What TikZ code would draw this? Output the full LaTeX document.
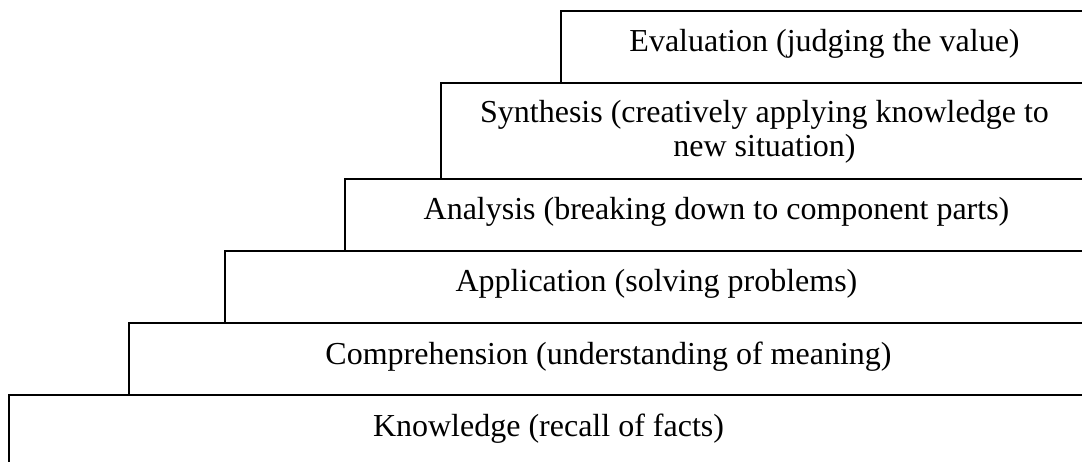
\documentclass[tikz,border=0pt]{standalone}
\usepackage{fontspec}
\setmainfont{Liberation Serif}
\usepackage{tikz}

\tikzset{
  tier/.style={draw=black, line width=2pt},
  tiertext/.style={anchor=base, inner sep=0pt, font=\fontsize{32}{34}\selectfont, align=center}
}

\begin{document}
\begin{tikzpicture}[x=1pt, y=-1pt]
\useasboundingbox (0,0) rectangle (1082,462);
\clip (0,0) rectangle (1082,462);

% Evaluation
\draw[tier] (561,11) rectangle (1088,83);
\node[tiertext] (evaluation) at (824.5,52) {Evaluation (judging the value)};

% Synthesis
\draw[tier] (441,83) rectangle (1088,179);
\node[tiertext] (synthesis) at (764.5,157) {Synthesis (creatively applying knowledge to\\new situation)};

% Analysis
\draw[tier] (345,179) rectangle (1088,251);
\node[tiertext] (analysis) at (716.5,220) {Analysis (breaking down to component parts)};

% Application
\draw[tier] (225,251) rectangle (1088,323);
\node[tiertext] (application) at (656.5,292) {Application (solving problems)};

% Comprehension
\draw[tier] (129,323) rectangle (1088,395);
\node[tiertext] (comprehension) at (608.5,364) {Comprehension (understanding of meaning)};

% Knowledge
\draw[tier] (9,395) rectangle (1088,467);
\node[tiertext] (knowledge) at (548.5,436) {Knowledge (recall of facts)};
\end{tikzpicture}
\end{document}
